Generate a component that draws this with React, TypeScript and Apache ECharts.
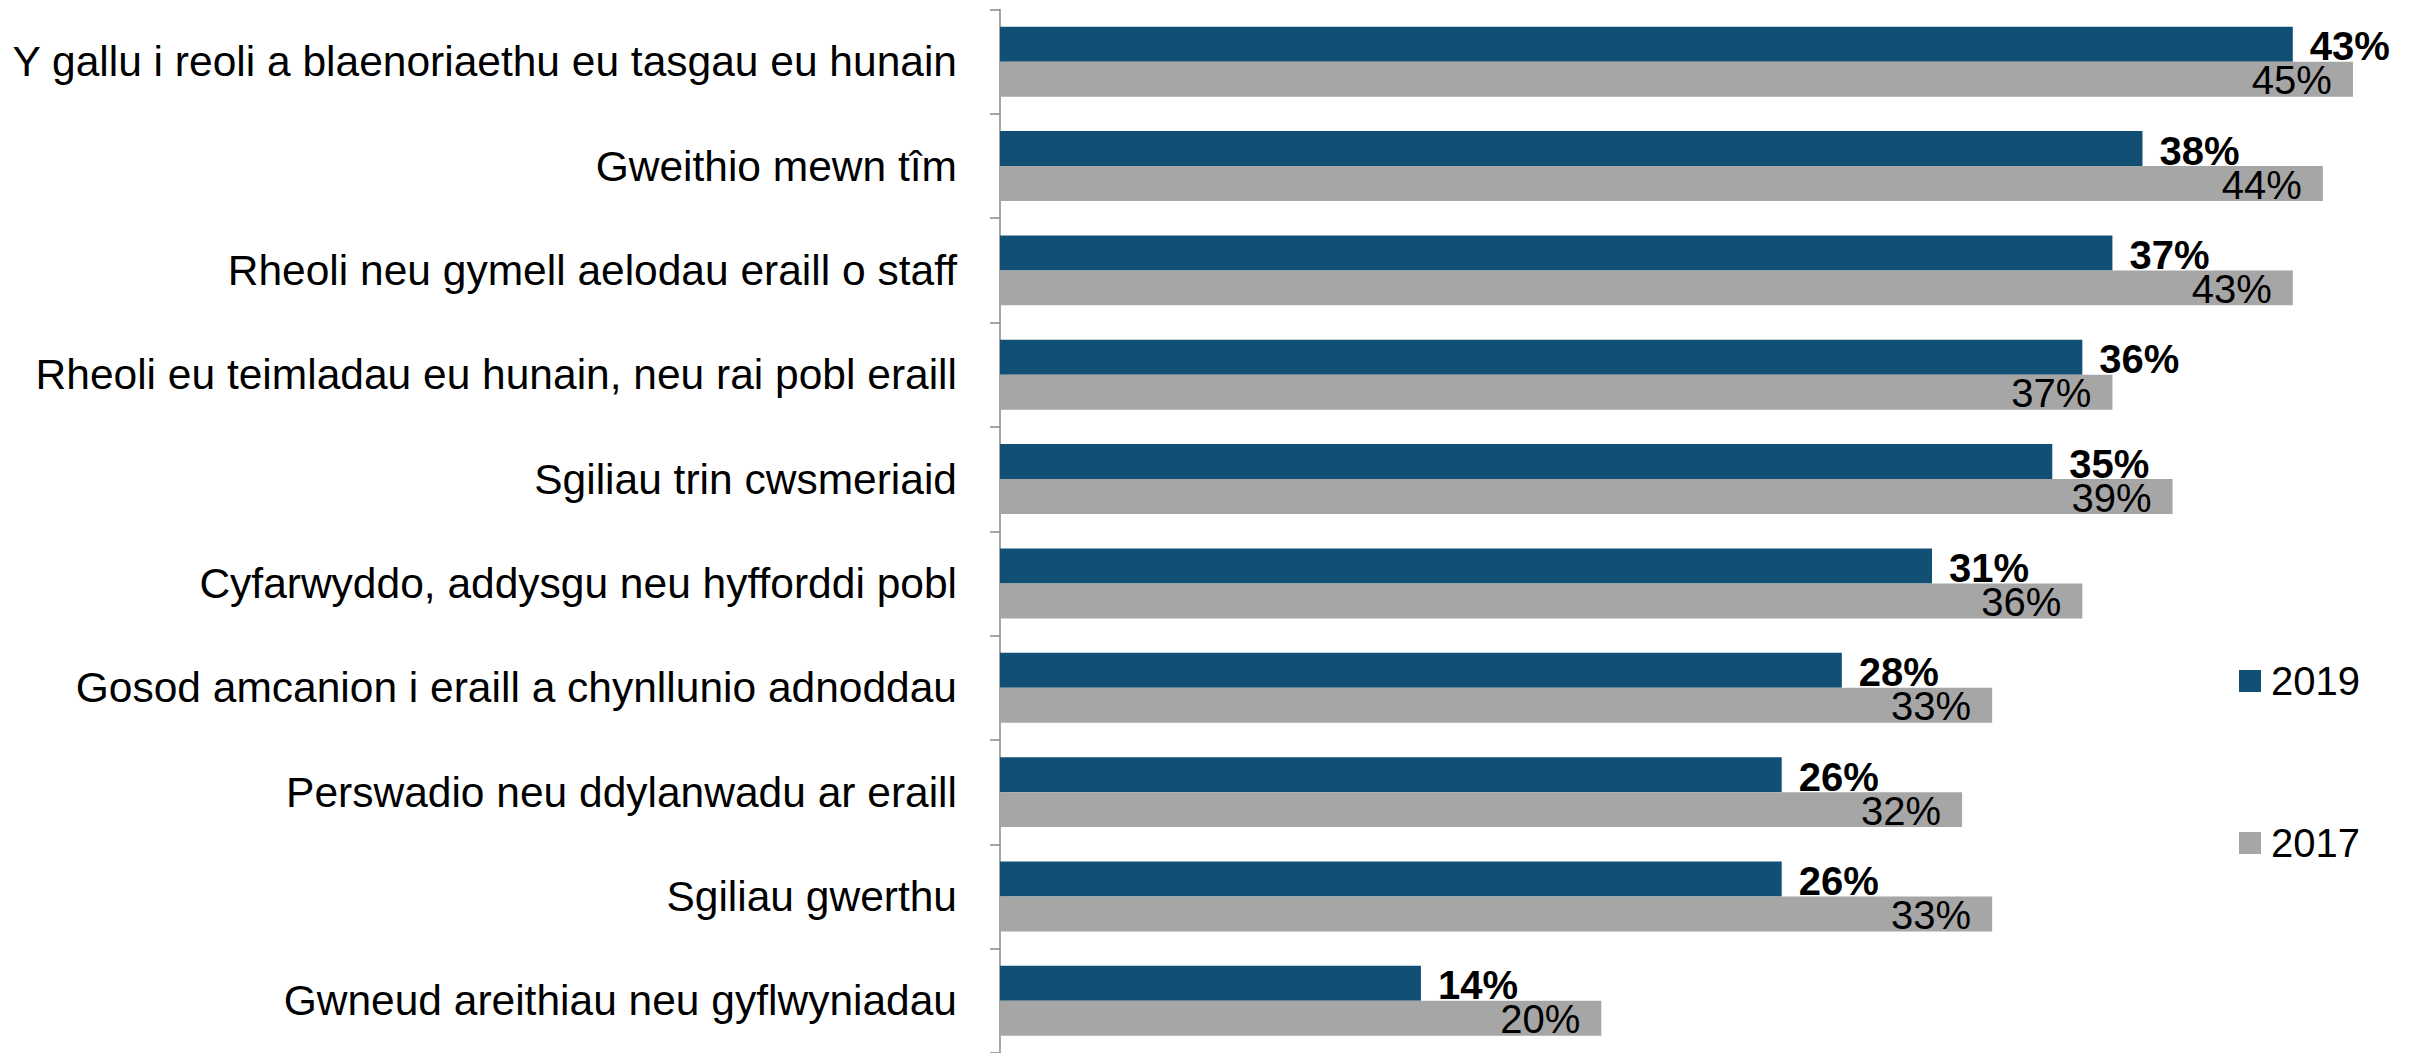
import React, { useEffect, useRef } from "react";
import * as echarts from "echarts";

const categories = [
  "Y gallu i reoli a blaenoriaethu eu tasgau eu hunain",
  "Gweithio mewn tîm",
  "Rheoli neu gymell aelodau eraill o staff",
  "Rheoli eu teimladau eu hunain, neu rai pobl eraill",
  "Sgiliau trin cwsmeriaid",
  "Cyfarwyddo, addysgu neu hyfforddi pobl",
  "Gosod amcanion i eraill a chynllunio adnoddau",
  "Perswadio neu ddylanwadu ar eraill",
  "Sgiliau gwerthu",
  "Gwneud areithiau neu gyflwyniadau",
];
const values2019 = [43, 38, 37, 36, 35, 31, 28, 26, 26, 14];
const values2017 = [45, 44, 43, 37, 39, 36, 33, 32, 33, 20];
const seriesNames = ["2019", "2017"];

const FONT = "'Liberation Sans', Arial, sans-serif";

export default function App() {
  const ref = useRef<HTMLDivElement>(null);
  useEffect(() => {
    if (!ref.current) return;
    const chart = echarts.init(ref.current, null, { renderer: "svg" });
    chart.setOption({
      animation: false,
      backgroundColor: "#ffffff",
      textStyle: { fontFamily: FONT },
      legend: {
        orient: "vertical",
        left: 2234,
        top: 656,
        itemWidth: 22,
        itemHeight: 22,
        itemGap: 122,
        icon: "rect",
        data: seriesNames,
        textStyle: { fontSize: 40, color: "#000", fontFamily: FONT, lineHeight: 40, padding: [0, 0, 0, 5] },
      },
      grid: { left: 1000, top: 9.5, width: 1383, height: 1045, containLabel: false },
      xAxis: {
        type: "value",
        min: 0,
        max: 46,
        show: false,
      },
      yAxis: {
        type: "category",
        inverse: true,
        data: categories,
        axisLine: { show: true, lineStyle: { color: "#898989", width: 1.5 } },
        axisTick: { show: true, length: 10, lineStyle: { color: "#898989", width: 1.5 } },
        axisLabel: { fontSize: 42.5, color: "#000", margin: 43, fontFamily: FONT },
        splitLine: { show: false },
      },
      series: [
        {
          name: seriesNames[0],
          type: "bar",
          data: values2019,
          barGap: "0%",
          barCategoryGap: "33%",
          itemStyle: { color: "#114F74" },
          label: {
            show: true,
            position: "right",
            distance: 17,
            formatter: "{c}%",
            fontSize: 40,
            fontWeight: "bold",
            color: "#000",
            fontFamily: FONT,
            offset: [0, 2],
          },
        },
        {
          name: seriesNames[1],
          type: "bar",
          data: values2017,
          barGap: "0%",
          barCategoryGap: "33%",
          itemStyle: { color: "#A6A6A6" },
          label: {
            show: true,
            position: "insideRight",
            distance: 21,
            formatter: "{c}%",
            fontSize: 40,
            color: "#000",
            fontFamily: FONT,
            offset: [0, 1],
          },
        },
      ],
    });
    return () => chart.dispose();
  }, []);
  return (
    <div
      ref={ref}
      style={{ position: "fixed", left: 0, top: 0, width: 2420, height: 1053 }}
    />
  );
}
